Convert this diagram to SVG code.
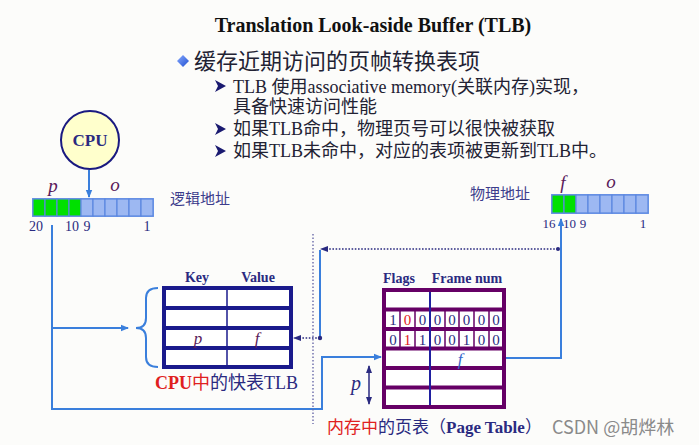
<svg xmlns="http://www.w3.org/2000/svg" width="699" height="445" viewBox="0 0 699 445">
<defs>
<style>
.serif{font-family:"Liberation Serif","Noto Sans CJK SC",serif}
.navy{fill:#2a2a80}
.red{fill:#e02020}
.ital{font-style:italic}
.bold{font-weight:bold}
.blue-line{stroke:#3a7fdc;stroke-width:2;fill:none}
.dot-line{stroke:#2a2a80;stroke-width:1.6;stroke-dasharray:1.6 1.6;fill:none}
.cellB{fill:#9db8f2;stroke:#5b87e0;stroke-width:1.2}
.cellG{fill:#00e000;stroke:#5b87e0;stroke-width:1.2}
.bits{font-family:"Liberation Serif",serif;font-size:15px;fill:#2a2a80;text-anchor:middle}
.lbl{font-family:"Liberation Serif",serif;font-size:14px;fill:#2a2a80;text-anchor:middle}
.lbl2{font-family:"Liberation Serif",serif;font-size:13px;fill:#2a2a80;text-anchor:middle}
.sub{font-family:"Liberation Serif","Noto Sans CJK SC",serif;font-size:18px;fill:#222233}
</style>
<marker id="ab" markerWidth="8" markerHeight="8" refX="7" refY="4" orient="auto" markerUnits="userSpaceOnUse">
<path d="M0,0.8 L8,4 L0,7.2 Z" fill="#3a7fdc"/>
</marker>
<marker id="an" markerWidth="8" markerHeight="8" refX="7" refY="4" orient="auto" markerUnits="userSpaceOnUse">
<path d="M0,1 L8,4 L0,7 Z" fill="#2a2a80"/>
</marker>
<marker id="an2" markerWidth="8" markerHeight="8" refX="1" refY="4" orient="auto" markerUnits="userSpaceOnUse">
<path d="M8,1 L0,4 L8,7 Z" fill="#2a2a80"/>
</marker>
<linearGradient id="dg" x1="0" y1="0" x2="1" y2="1">
<stop offset="0" stop-color="#88aaff"/><stop offset="1" stop-color="#1f4fd0"/>
</linearGradient>
</defs>
<rect width="699" height="445" fill="#fcfcfa"/>

<g id="title">
<text x="373" y="32" text-anchor="middle" class="serif bold" font-size="20" fill="#111">Translation Look-aside Buffer (TLB)</text>
</g>

<g id="bullets">
<path d="M183,55 L189,61 L183,67 L177,61 Z" fill="url(#dg)"/>
<text x="194" y="69" font-family="'Liberation Serif','Noto Sans CJK SC',serif" font-size="22" fill="#222233">缓存近期访问的页帧转换表项</text>
<path d="M215,80 L226,86 L215,92 L218,86 Z" fill="#1a1a70"/>
<text x="233" y="93" class="sub">TLB 使用associative memory(关联内存)实现，</text>
<text x="233" y="113" class="sub">具备快速访问性能</text>
<path d="M215,123 L226,129 L215,135 L218,129 Z" fill="#1a1a70"/>
<text x="233" y="135" class="sub">如果TLB命中，物理页号可以很快被获取</text>
<path d="M215,145 L226,151 L215,157 L218,151 Z" fill="#1a1a70"/>
<text x="233" y="157" class="sub">如果TLB未命中，对应的表项被更新到TLB中。</text>
</g>

<g id="cpu">
<circle cx="90" cy="140" r="29" fill="#ffffcc" stroke="#1a1a80" stroke-width="2"/>
<text x="90" y="146" text-anchor="middle" class="serif bold navy" font-size="17">CPU</text>
</g>

<g id="logical-address">
<text x="53" y="192" text-anchor="middle" class="serif ital" font-size="19" fill="#5a1a5a">p</text>
<text x="115" y="191" text-anchor="middle" class="serif ital" font-size="19" fill="#5a1a5a">o</text>
<rect x="32" y="198" width="122" height="19" fill="#7aa0ea"/>
<rect x="33" y="199" width="12" height="17" class="cellG"/>
<rect x="45" y="199" width="12" height="17" class="cellG"/>
<rect x="57" y="199" width="12" height="17" class="cellG"/>
<rect x="69" y="199" width="12" height="17" class="cellG"/>
<rect x="81" y="199" width="12" height="17" class="cellB"/>
<rect x="93" y="199" width="12" height="17" class="cellB"/>
<rect x="105" y="199" width="12" height="17" class="cellB"/>
<rect x="117" y="199" width="12" height="17" class="cellB"/>
<rect x="129" y="199" width="12" height="17" class="cellB"/>
<rect x="141" y="199" width="12" height="17" class="cellB"/>
<text x="36" y="231" class="lbl">20</text>
<text x="72" y="231" class="lbl">10</text>
<text x="87" y="231" class="lbl">9</text>
<text x="147" y="231" class="lbl">1</text>
<text x="170" y="204" font-family="'Noto Sans CJK SC',sans-serif" font-size="15" fill="#3c3c8c">逻辑地址</text>
</g>

<g id="physical-address">
<text x="470" y="199" font-family="'Noto Sans CJK SC',sans-serif" font-size="15" fill="#3c3c8c">物理地址</text>
<text x="563" y="189" text-anchor="middle" class="serif ital" font-size="19" fill="#5a1a5a">f</text>
<text x="611" y="188" text-anchor="middle" class="serif ital" font-size="19" fill="#5a1a5a">o</text>
<rect x="551" y="194" width="98" height="20" fill="#7aa0ea"/>
<rect x="552" y="195" width="12" height="18" class="cellG"/>
<rect x="564" y="195" width="12" height="18" class="cellG"/>
<rect x="576" y="195" width="12" height="18" class="cellB"/>
<rect x="588" y="195" width="12" height="18" class="cellB"/>
<rect x="600" y="195" width="12" height="18" class="cellB"/>
<rect x="612" y="195" width="12" height="18" class="cellB"/>
<rect x="624" y="195" width="12" height="18" class="cellB"/>
<rect x="636" y="195" width="12" height="18" class="cellB"/>
<text x="549" y="228" class="lbl2">16</text>
<text x="569.5" y="228" class="lbl2">10</text>
<text x="583" y="228" class="lbl2">9</text>
<text x="643" y="228" class="lbl2">1</text>
</g>

<g id="tlb">
<text x="197" y="282" text-anchor="middle" class="serif bold navy" font-size="14">Key</text>
<text x="258" y="282" text-anchor="middle" class="serif bold navy" font-size="14">Value</text>
<rect x="164" y="288" width="127" height="79" fill="#ffffff" stroke="#1a1a8c" stroke-width="4"/>
<path d="M164,308 H291 M164,328 H291 M164,348 H291" stroke="#1a1a8c" stroke-width="4"/>
<path d="M227,290 V365" stroke="#1a1a8c" stroke-width="1.5"/>
<text x="198" y="344" text-anchor="middle" class="serif ital" font-size="17" fill="#5a1a5a">p</text>
<text x="257" y="344" text-anchor="middle" class="serif ital" font-size="17" fill="#5a1a5a">f</text>
<text x="155" y="389" class="serif" font-size="18"><tspan class="red bold">CPU</tspan><tspan class="red">中</tspan><tspan class="navy">的快表TLB</tspan></text>
</g>

<g id="page-table">
<text x="399" y="283" text-anchor="middle" class="serif bold navy" font-size="14">Flags</text>
<text x="467" y="283" text-anchor="middle" class="serif bold navy" font-size="14">Frame num</text>
<rect x="384" y="290" width="120" height="117" fill="#ffffff" stroke="#660066" stroke-width="4"/>
<path d="M400,311 V347 M415,311 V347 M445,311 V347 M459,311 V347 M474,311 V347 M489,311 V347" stroke="#660066" stroke-width="1.5"/>
<path d="M384,309.5 H504 M384,329 H504 M384,348.5 H504 M384,368 H504 M384,387.5 H504" stroke="#660066" stroke-width="4"/>
<path d="M430,292 V405" stroke="#2020a0" stroke-width="2"/>
<text y="325" class="bits"><tspan x="393">1</tspan><tspan x="407.5" fill="#e02020">0</tspan><tspan x="422.5">0</tspan><tspan x="437.5">0</tspan><tspan x="452">0</tspan><tspan x="466.5">0</tspan><tspan x="481.5">0</tspan><tspan x="496">0</tspan></text>
<text y="344.5" class="bits"><tspan x="393">0</tspan><tspan x="407.5" fill="#e02020">1</tspan><tspan x="422.5">1</tspan><tspan x="437.5">0</tspan><tspan x="452">0</tspan><tspan x="466.5">1</tspan><tspan x="481.5">0</tspan><tspan x="496">0</tspan></text>
<text x="460" y="365" text-anchor="middle" class="serif ital" font-size="17" fill="#3366cc">f</text>
<text x="356" y="390" text-anchor="middle" class="serif ital" font-size="20" fill="#2a2a80">p</text>
<path d="M369,366 V404" stroke="#2a2a80" stroke-width="1.5" marker-start="url(#an2)" marker-end="url(#an)"/>
<text x="327" y="433" class="serif" font-size="17"><tspan class="red">内存中</tspan><tspan class="navy">的页表（</tspan><tspan class="navy bold">Page Table</tspan><tspan class="navy">）</tspan></text>
</g>

<g id="watermark">
<text x="552" y="434" font-family="'Noto Sans CJK SC',sans-serif" font-size="18" fill="#8a8a8a">CSDN @胡烨林</text>
</g>

<g id="connectors">
<path d="M89,170 V197" class="blue-line" marker-end="url(#ab)"/>
<path d="M52,225 V409 H322 V357 H381" class="blue-line" marker-end="url(#ab)"/>
<path d="M52,328 H128" class="blue-line" marker-end="url(#ab)"/>
<path d="M158,288 Q146,288 146,298 V318 Q146,328 136,328 Q146,328 146,338 V357 Q146,367 158,367" class="blue-line"/>
<path d="M506,358 H561 V219" class="blue-line" marker-end="url(#ab)"/>
<path d="M313,234 V424" stroke="#6a6aa8" stroke-width="1.4" stroke-dasharray="1.5 2" fill="none"/>
<path d="M558,249 H321" class="dot-line" marker-end="url(#an)"/>
<circle cx="558" cy="249" r="2" fill="#2a2a80"/>
<path d="M320,250 V338" class="blue-line"/>
<circle cx="320" cy="338" r="2.2" fill="#2a2a80"/>
<path d="M320,338 H294" class="dot-line" marker-end="url(#an)"/>
</g>
</svg>
